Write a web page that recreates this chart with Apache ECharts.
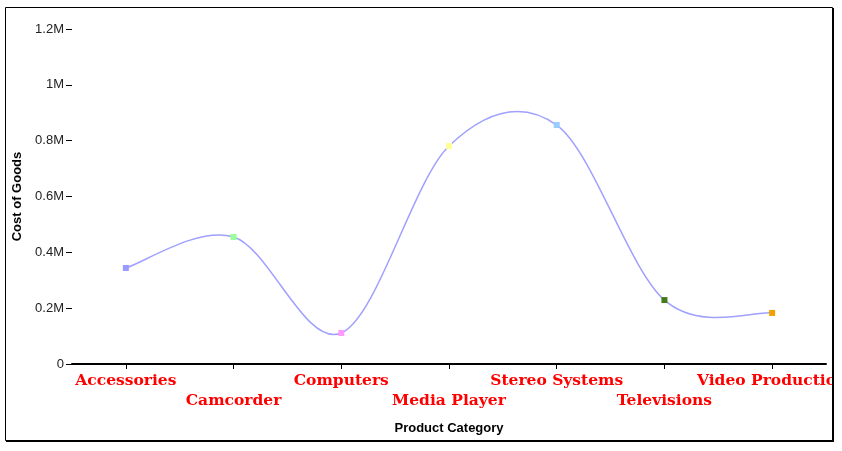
<!DOCTYPE html>
<html>
<head>
<meta charset="utf-8">
<script src="https://cdn.jsdelivr.net/npm/echarts@6/dist/echarts.min.js"></script>
<style>
html,body{margin:0;padding:0;background:#fff;}
#c{width:842px;height:451px;}
</style>
</head>
<body>
<div id="c"></div>
<script>
var categories = ['Accessories','Camcorder','Computers','Media Player','Stereo Systems','Televisions','Video Production'];
var costValues = [344000, 455000, 111000, 781000, 856000, 229000, 183000];
var markerColors = ['#9999ff','#99ff99','#ff99ff','#ffff99','#99ccff','#447a1c','#f0a000'];
var yTicks = [0, 200000, 400000, 600000, 800000, 1000000, 1200000];

var chart = echarts.init(document.getElementById('c'), null, {renderer:'canvas'});

function renderCurve(params, api) {
  if (params.dataIndex !== 0) return null;
  var pts = costValues.map(function (v, i) { return api.coord([i, v]); });
  var n = pts.length;
  var d = 'M' + pts[0][0] + ',' + pts[0][1];
  for (var i = 0; i < n - 1; i++) {
    var p0 = pts[Math.max(i - 1, 0)], p1 = pts[i], p2 = pts[i + 1], p3 = pts[Math.min(i + 2, n - 1)];
    var c1x = p1[0] + (p2[0] - p0[0]) / 6, c1y = p1[1] + (p2[1] - p0[1]) / 6;
    var c2x = p2[0] - (p3[0] - p1[0]) / 6, c2y = p2[1] - (p3[1] - p1[1]) / 6;
    d += ' C' + c1x + ',' + c1y + ' ' + c2x + ',' + c2y + ' ' + p2[0] + ',' + p2[1];
  }
  return {
    type: 'path',
    shape: {pathData: d},
    style: {fill: null, stroke: '#a0a0ff', lineWidth: 1.5}
  };
}

chart.setOption({
  animation: false,
  grid: {left: 72, right: 16, top: 29, bottom: 87, outerBoundsMode: 'none', containLabel: false},
  xAxis: {
    type: 'category',
    data: categories,
    boundaryGap: true,
    name: 'Product Category',
    nameLocation: 'middle',
    nameGap: 58,
    nameTextStyle: {fontFamily: 'Liberation Sans', fontWeight: 'bold', fontSize: 13, color: '#000'},
    axisLine: {show: true, lineStyle: {color: '#000', width: 2}},
    axisTick: {show: true, alignWithLabel: true, length: 5, lineStyle: {color: '#000', width: 1}},
    axisLabel: {
      interval: 0,
      margin: 7,
      color: '#ff0000',
      fontFamily: 'DejaVu Serif',
      fontWeight: 'bold',
      fontSize: 15.5,
      lineHeight: 20,
      formatter: function (v, i) { return i % 2 ? '\n' + v : v; }
    },
    splitLine: {show: false}
  },
  yAxis: {
    type: 'value',
    min: 0,
    max: 1200000,
    interval: 200000,
    name: 'Cost of Goods',
    nameLocation: 'middle',
    nameGap: 45,
    nameRotate: 90,
    nameTextStyle: {fontFamily: 'Liberation Sans', fontWeight: 'bold', fontSize: 13, color: '#000'},
    axisLine: {show: false},
    axisTick: {show: true, length: 6, lineStyle: {color: '#000', width: 1}},
    axisLabel: {
      margin: 8,
      color: '#222',
      fontFamily: 'Liberation Sans',
      fontSize: 13,
      formatter: function (v) {
        if (v === 0) return '0';
        return (v / 1000000) + 'M';
      }
    },
    splitLine: {show: false}
  },
  series: [{
    type: 'custom',
    renderItem: renderCurve,
    data: costValues.map(function (v, i) { return [i, v]; }),
    encode: {x: 0, y: 1},
    z: 2,
    silent: true
  }, {
    type: 'scatter',
    data: costValues.map(function (v, i) {
      return {value: [i, v], itemStyle: {color: markerColors[i], opacity: 1}};
    }),
    symbol: 'rect',
    symbolSize: 6,
    z: 3
  }],
  graphic: [
    {type: 'rect', z: 100, shape: {x: 834, y: 0, width: 8, height: 451}, style: {fill: '#fff'}},
    {type: 'rect', z: 101, shape: {x: 5.5, y: 7.5, width: 827, height: 433}, style: {fill: 'none', stroke: '#000', lineWidth: 1}},
    {type: 'line', z: 101, shape: {x1: 833, y1: 8, x2: 833, y2: 442}, style: {stroke: '#000', lineWidth: 2}},
    {type: 'line', z: 101, shape: {x1: 6, y1: 441, x2: 834, y2: 441}, style: {stroke: '#000', lineWidth: 2}}
  ]
});
</script>
</body>
</html>
